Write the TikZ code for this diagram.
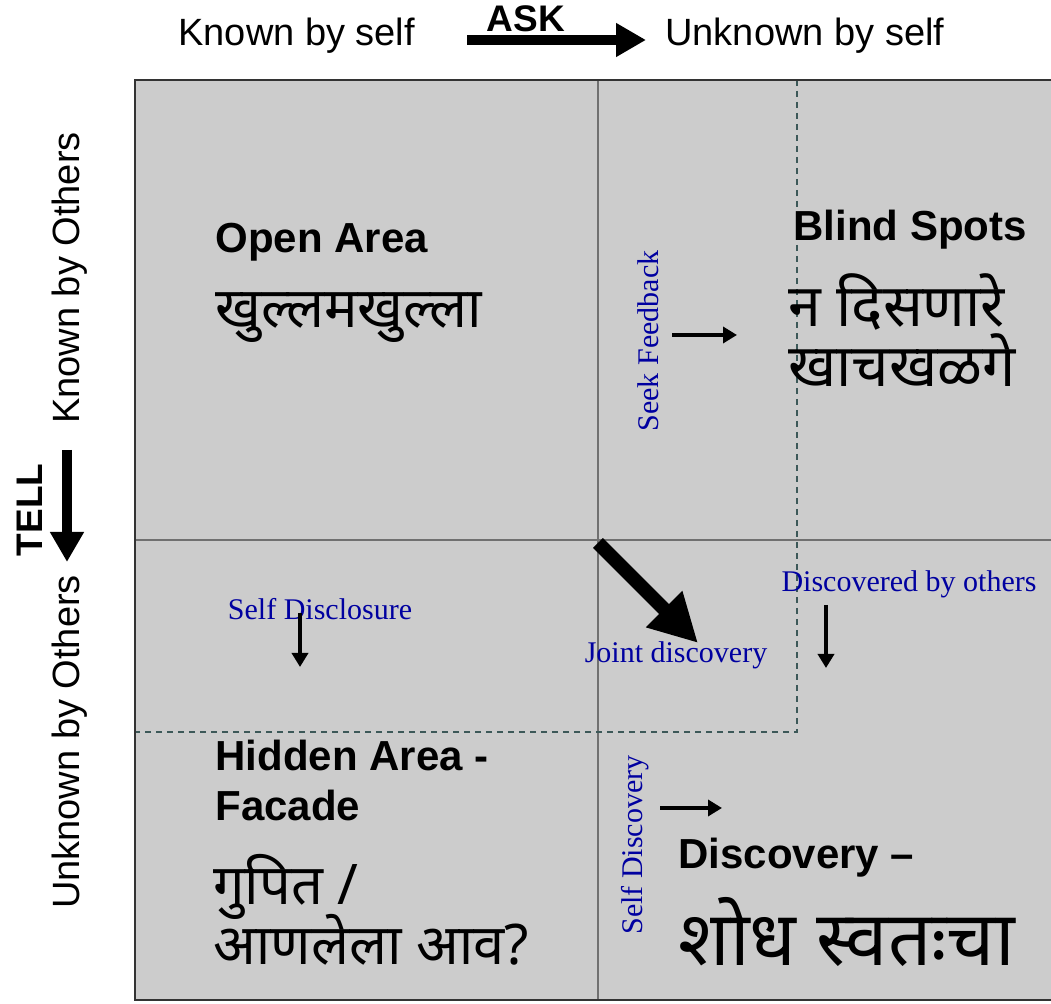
\documentclass[tikz,border=0pt]{standalone}
\usepackage{fontspec}
\setmainfont{Liberation Serif}
\setsansfont{Liberation Sans}
\newfontfamily\deva[Script=Devanagari]{Noto Sans}
\usepackage{tikz}
\usetikzlibrary{arrows.meta}
\definecolor{quadgray}{HTML}{CCCCCC}
\definecolor{divgray}{HTML}{707070}
\definecolor{dashteal}{HTML}{3C5858}
\definecolor{noteblue}{HTML}{0000A0}
\newcommand{\tightlines}{\lineskiplimit -30pt\relax}
\tikzstyle{axis} = [inner sep=0pt, font=\sffamily\fontsize{19}{22}\selectfont]
\tikzstyle{axisbold} = [inner sep=0pt, font=\sffamily\bfseries\fontsize{18.5}{22}\selectfont]
\tikzstyle{title} = [inner sep=0pt, anchor=west, align=left, font=\sffamily\bfseries\fontsize{21}{25}\selectfont]
\tikzstyle{marathi} = [inner sep=0pt, anchor=west, align=left, font={\deva\fontsize{28}{30}\selectfont\tightlines}]
\tikzstyle{note} = [inner sep=0pt, text=noteblue, font=\fontsize{15}{18}\selectfont]
\tikzstyle{bigarrow} = [line width=5pt, -{Triangle[length=15pt,width=16pt]}]
\tikzstyle{smallarrow} = [line width=2pt, -{Triangle[length=7pt,width=8pt]}]

\begin{document}
\begin{tikzpicture}[x=0.5pt,y=-0.5pt]
    \useasboundingbox (0,0) rectangle (1051,1004);
    % quadrants
    \fill[quadgray] (135,80) rectangle (1053,1000);
    \draw[divgray, line width=1pt] (598,80) -- (598,1000);
    \draw[divgray, line width=1pt] (135,540) -- (1053,540);
    \draw[dashteal, line width=1pt, dash pattern=on 3pt off 2.5pt] (797,80) -- (797,732) -- (135,732);
    \draw[black!80, line width=1pt] (1053,80) -- (135,80) -- (135,1000) -- (1053,1000);
    % axes
    \node (KnownSelf) [axis, anchor=west] at (178,36) {Known by self};
    \node (Ask) [axisbold] at (526,19) {ASK};
    \node (UnknownSelf) [axis, anchor=west] at (665,36) {Unknown by self};
    \coordinate (AskStart) at (467,40);
    \coordinate (AskEnd) at (646,40);
    \draw[bigarrow] (AskStart) -- (AskEnd);
    \node (KnownOthers) [axis, rotate=90] at (70,278) {Known by Others};
    \node (UnknownOthers) [axis, rotate=90] at (70,742) {Unknown by Others};
    \node (Tell) [axisbold, rotate=90] at (30,510) {TELL};
    \coordinate (TellStart) at (67,450);
    \coordinate (TellEnd) at (67,562);
    \draw[bigarrow] (TellStart) -- (TellEnd);
    % open area
    \node (Open) [title] at (215,242) {Open Area};
    \node (OpenMr) [marathi] at (215,318) {खुल्लमखुल्ला};
    % blind spots
    \node (Blind) [title] at (793,230) {Blind Spots};
    \node (BlindMr) [marathi, font={\deva\fontsize{29.5}{30}\selectfont\tightlines}] at (788,330) {न दिसणारे\\खाचखळगे};
    \node (Seek) [note, rotate=90] at (648,341) {Seek Feedback};
    \coordinate (SeekStart) at (672,335);
    \coordinate (SeekEnd) at (737,335);
    \draw[smallarrow] (SeekStart) -- (SeekEnd);
    % hidden area
    \node (SelfDis) [note] at (320,609) {Self Disclosure};
    \coordinate (SelfDisStart) at (300,613);
    \coordinate (SelfDisEnd) at (300,667);
    \draw[smallarrow] (SelfDisStart) -- (SelfDisEnd);
    \node (Hidden) [title] at (215,780) {Hidden Area -\\Facade};
    \node (HiddenMr) [marathi] at (213,910) {गुपित /\\आणलेला आव?};
    % joint discovery
    \node (Joint) [note] at (676,655) {Joint discovery};
    \coordinate (JointStart) at (598,543);
    \coordinate (JointEnd) at (698,643);
    \draw[line width=7pt, -{Triangle[length=24pt,width=24pt]}] (JointStart) -- (JointEnd);
    \node (DisOthers) [note] at (909,584) {Discovered by others};
    \coordinate (DisOthersStart) at (826,605);
    \coordinate (DisOthersEnd) at (826,668);
    \draw[smallarrow] (DisOthersStart) -- (DisOthersEnd);
    % discovery
    \node (SelfDisc) [note, rotate=90] at (635,845) {Self Discovery};
    \coordinate (SelfDiscStart) at (660,808);
    \coordinate (SelfDiscEnd) at (722,808);
    \draw[smallarrow] (SelfDiscStart) -- (SelfDiscEnd);
    \node (Disc) [title] at (678,858) {Discovery --};
    \node (DiscMr) [marathi, font=\deva\fontsize{38}{40}\selectfont] at (678,932) {शोध स्वतःचा};
\end{tikzpicture}
\end{document}
